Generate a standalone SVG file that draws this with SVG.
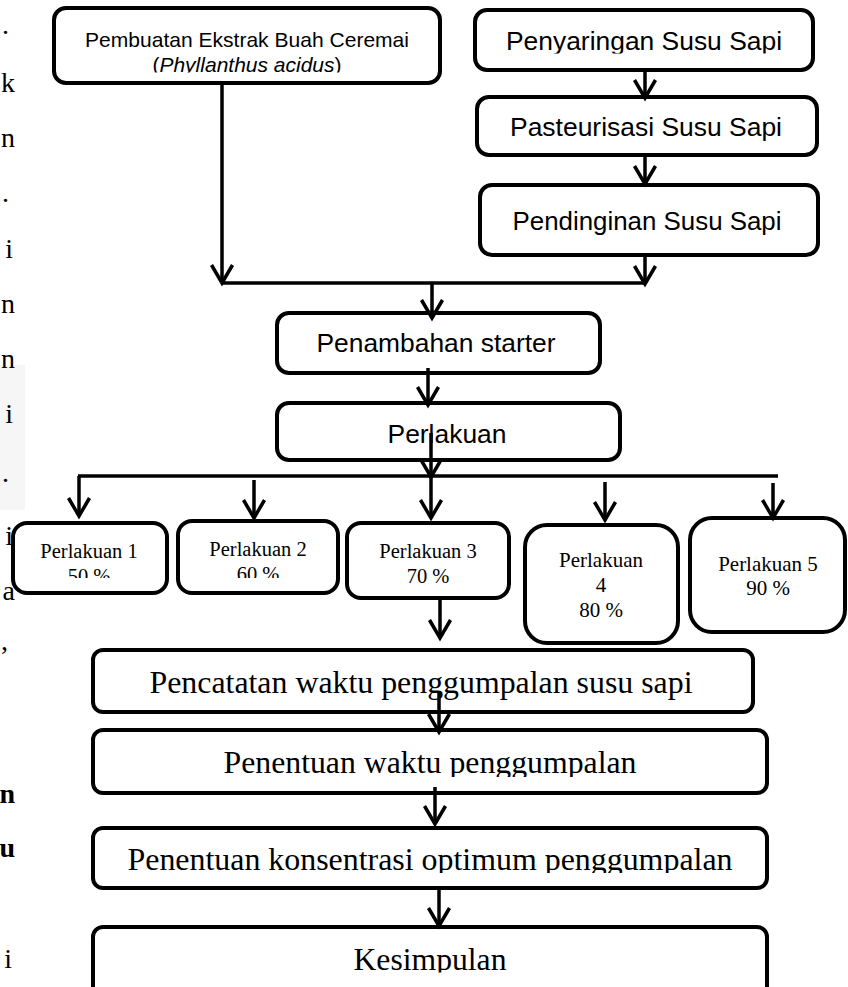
<svg xmlns="http://www.w3.org/2000/svg" width="848" height="987" viewBox="0 0 848 987">
<style>
.box{fill:#fff;stroke:#000;stroke-width:4}
.sans{font-family:"Liberation Sans",Arial,sans-serif;fill:#000}
.serif{font-family:"Liberation Serif","Times New Roman",serif;fill:#000}
.c{stroke:#000;stroke-width:3.5;fill:none}
.margin{font-family:"Liberation Serif","Times New Roman",serif;font-size:28px;fill:#000}
</style>
<defs>
<marker id="ah" markerUnits="userSpaceOnUse" orient="auto" refX="0" refY="0" overflow="visible" markerWidth="20" markerHeight="24">
<path d="M-18,-10.5 L0,0 L-18,10.5" fill="none" stroke="#000" stroke-width="3.5" stroke-linejoin="miter"/>
</marker>
<clipPath id="clip1"><rect x="0" y="0" width="848" height="72.5"/></clipPath>
<clipPath id="clip2"><rect x="0" y="0" width="848" height="53.5"/></clipPath>
<clipPath id="clipP"><rect x="0" y="0" width="848" height="578"/></clipPath>
<clipPath id="clip8"><rect x="0" y="0" width="848" height="777"/></clipPath>
<clipPath id="clip9"><rect x="0" y="0" width="848" height="873"/></clipPath>
<clipPath id="clip10"><rect x="0" y="0" width="848" height="972.5"/></clipPath>
</defs>
<rect x="0" y="0" width="848" height="987" fill="#fff"/>

<g id="margin-text">
<rect x="0" y="365" width="25" height="145" fill="#f6f6f6"/>
<text class="margin" x="9" y="34" text-anchor="end">.</text>
<text class="margin" x="15" y="92" text-anchor="end">k</text>
<text class="margin" x="15" y="147" text-anchor="end">n</text>
<text class="margin" x="9" y="202" text-anchor="end">.</text>
<text class="margin" x="13" y="258" text-anchor="end">i</text>
<text class="margin" x="15" y="313" text-anchor="end">n</text>
<text class="margin" x="15" y="368" text-anchor="end">n</text>
<text class="margin" x="13" y="423" text-anchor="end">i</text>
<text class="margin" x="9" y="482" text-anchor="end">.</text>
<text class="margin" x="13" y="545" text-anchor="end">i</text>
<text class="margin" x="15" y="600" text-anchor="end">a</text>
<text class="margin" x="8" y="650" text-anchor="end">,</text>
<text class="margin" x="15" y="803" text-anchor="end" font-weight="bold">n</text>
<text class="margin" x="15" y="857" text-anchor="end" font-weight="bold">u</text>
<text class="margin" x="12" y="968" text-anchor="end">i</text>
</g>

<g id="n1">
<rect class="box" x="54" y="8" width="386" height="75" rx="12"/>
<text class="sans" x="247" y="47" font-size="21" text-anchor="middle" textLength="324" lengthAdjust="spacingAndGlyphs">Pembuatan Ekstrak Buah Ceremai</text>
<g clip-path="url(#clip1)"><text class="sans" x="247" y="72" font-size="21" text-anchor="middle">(<tspan font-style="italic">Phyllanthus acidus</tspan>)</text></g>
</g>
<g id="n2">
<rect class="box" x="475" y="10" width="338" height="60" rx="12"/>
<g clip-path="url(#clip2)"><text class="sans" x="644" y="50" font-size="26" text-anchor="middle" textLength="276" lengthAdjust="spacingAndGlyphs">Penyaringan Susu Sapi</text></g>
</g>
<g id="n3">
<rect class="box" x="477" y="97" width="340" height="58" rx="12"/>
<text class="sans" x="646" y="136" font-size="26" text-anchor="middle" textLength="272" lengthAdjust="spacingAndGlyphs">Pasteurisasi Susu Sapi</text>
</g>
<g id="n4">
<rect class="box" x="480" y="185" width="338" height="70" rx="12"/>
<text class="sans" x="647" y="230" font-size="26" text-anchor="middle" textLength="269" lengthAdjust="spacingAndGlyphs">Pendinginan Susu Sapi</text>
</g>
<g id="n5">
<rect class="box" x="277" y="313" width="323" height="60" rx="12"/>
<text class="sans" x="436" y="352" font-size="26" text-anchor="middle" textLength="239" lengthAdjust="spacingAndGlyphs">Penambahan starter</text>
</g>
<g id="n6">
<rect class="box" x="277" y="403" width="343" height="57" rx="12"/>
<text class="sans" x="447" y="443" font-size="26" text-anchor="middle" textLength="119" lengthAdjust="spacingAndGlyphs">Perlakuan</text>
</g>
<g id="p1">
<rect class="box" x="13" y="523" width="154" height="70" rx="14"/>
<text class="serif" x="89" y="558" font-size="20.5" text-anchor="middle">Perlakuan 1</text>
<g clip-path="url(#clipP)"><text class="serif" x="89" y="583" font-size="20.5" text-anchor="middle">50 %</text></g>
</g>
<g id="p2">
<rect class="box" x="178" y="521" width="160" height="72" rx="14"/>
<text class="serif" x="258" y="556" font-size="20.5" text-anchor="middle">Perlakuan 2</text>
<g clip-path="url(#clipP)"><text class="serif" x="258" y="581" font-size="20.5" text-anchor="middle">60 %</text></g>
</g>
<g id="p3">
<rect class="box" x="347" y="523" width="162" height="75" rx="14"/>
<text class="serif" x="428" y="558" font-size="20.5" text-anchor="middle">Perlakuan 3</text>
<text class="serif" x="428" y="583" font-size="20.5" text-anchor="middle">70 %</text>
</g>
<g id="p4">
<rect class="box" x="525" y="525" width="153" height="118" rx="22"/>
<text class="serif" x="601" y="567" font-size="21" text-anchor="middle">Perlakuan</text>
<text class="serif" x="601" y="592" font-size="21" text-anchor="middle">4</text>
<text class="serif" x="601" y="617" font-size="21" text-anchor="middle">80 %</text>
</g>
<g id="p5">
<rect class="box" x="690" y="518" width="155" height="114" rx="22"/>
<text class="serif" x="768" y="571" font-size="21" text-anchor="middle">Perlakuan 5</text>
<text class="serif" x="768" y="595" font-size="21" text-anchor="middle">90 %</text>
</g>
<g id="n7">
<rect class="box" x="93" y="650" width="660" height="62" rx="10"/>
<text class="serif" x="421" y="693" font-size="31" text-anchor="middle" textLength="543" lengthAdjust="spacingAndGlyphs">Pencatatan waktu penggumpalan susu sapi</text>
</g>
<g id="n8">
<rect class="box" x="93" y="730" width="674" height="63" rx="10"/>
<g clip-path="url(#clip8)"><text class="serif" x="430" y="773" font-size="31" text-anchor="middle" textLength="413" lengthAdjust="spacingAndGlyphs">Penentuan waktu penggumpalan</text></g>
</g>
<g id="n9">
<rect class="box" x="93" y="828" width="674" height="60" rx="10"/>
<g clip-path="url(#clip9)"><text class="serif" x="430" y="870" font-size="31" text-anchor="middle" textLength="605" lengthAdjust="spacingAndGlyphs">Penentuan konsentrasi optimum penggumpalan</text></g>
</g>
<g id="n10">
<rect class="box" x="93" y="927" width="674" height="75" rx="10"/>
<g clip-path="url(#clip10)"><text class="serif" x="430" y="970" font-size="31" text-anchor="middle" textLength="153" lengthAdjust="spacingAndGlyphs">Kesimpulan</text></g>
</g>

<g id="connectors">
<path class="c" d="M222,83 V283" marker-end="url(#ah)"/>
<path class="c" d="M222,283 H645" stroke-width="5"/>
<path class="c" d="M645,70 V98" marker-end="url(#ah)"/>
<path class="c" d="M645,155 V184" marker-end="url(#ah)"/>
<path class="c" d="M645,255 V284" marker-end="url(#ah)"/>
<path class="c" d="M432,283 V318" marker-end="url(#ah)"/>
<path class="c" d="M428,368 V405" marker-end="url(#ah)"/>
<path class="c" d="M78,476 H778" stroke-width="4"/>
<path class="c" d="M431,433 V477" marker-end="url(#ah)"/>
<path class="c" d="M431,477 V518" marker-end="url(#ah)"/>
<path class="c" d="M79,476 V516" marker-end="url(#ah)"/>
<path class="c" d="M254,480 V518" marker-end="url(#ah)"/>
<path class="c" d="M605,482 V520" marker-end="url(#ah)"/>
<path class="c" d="M773,483 V518" marker-end="url(#ah)"/>
<path class="c" d="M440,596 V638" marker-end="url(#ah)"/>
<path class="c" d="M439,693 V732" marker-end="url(#ah)"/>
<path class="c" d="M435,787 V824" marker-end="url(#ah)"/>
<path class="c" d="M439,888 V926" marker-end="url(#ah)"/>
</g>
</svg>
